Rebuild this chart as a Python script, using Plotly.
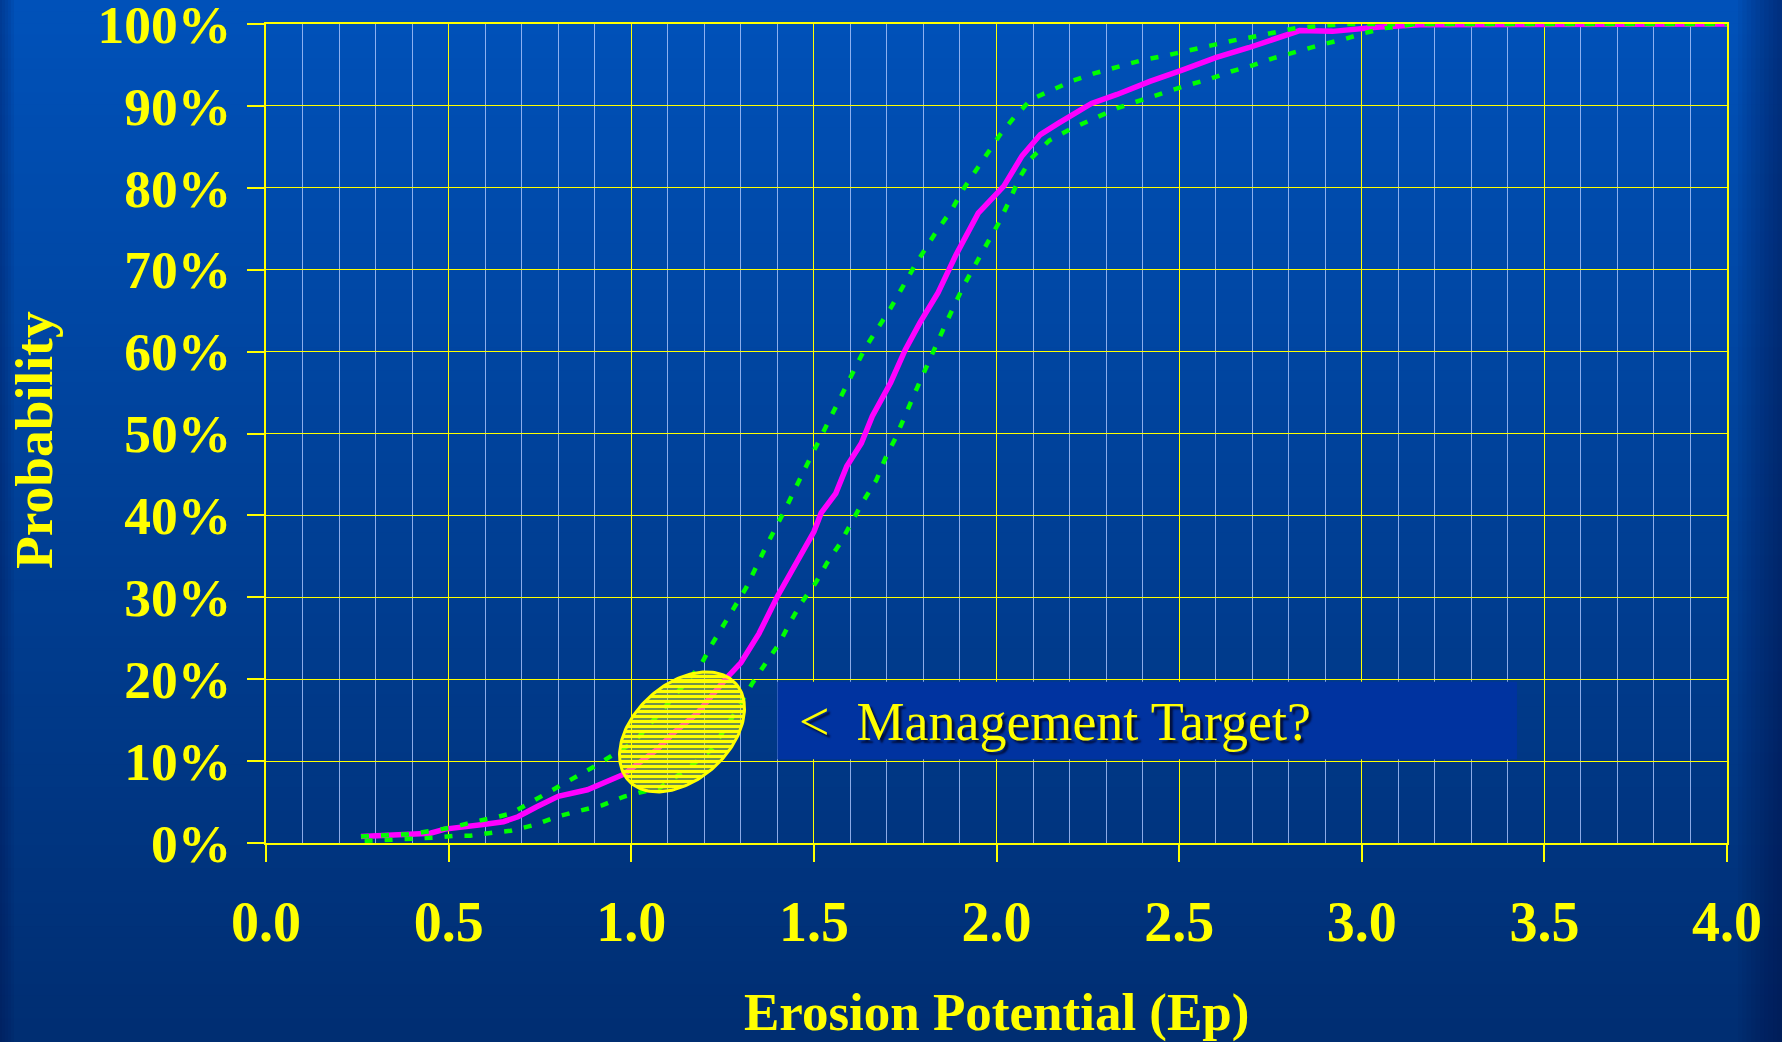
import plotly.graph_objects as go
import numpy as np

# ---------------- data ----------------
EP_MEAN = [0.26, 0.33, 0.40, 0.45, 0.49, 0.54, 0.60, 0.65, 0.69, 0.74, 0.80, 0.88, 0.93, 0.98,
           1.07, 1.12, 1.18, 1.23, 1.26, 1.30, 1.35, 1.40, 1.46, 1.50, 1.52, 1.56, 1.59, 1.63,
           1.66, 1.71, 1.75, 1.79, 1.84, 1.89, 1.95, 2.02, 2.07, 2.12, 2.17, 2.26, 2.33, 2.42,
           2.51, 2.60, 2.69, 2.76, 2.83, 2.92, 2.97, 3.04, 3.16, 4.00]
P_MEAN = [0.8, 1.0, 1.1, 1.2, 1.7, 1.9, 2.3, 2.6, 3.2, 4.4, 5.7, 6.5, 7.5, 8.4,
          11.4, 13.6, 15.8, 18.5, 20.1, 22.0, 25.6, 30.1, 35.0, 38.0, 40.3, 42.7, 46.0, 48.8,
          52.1, 56.2, 60.2, 63.5, 67.2, 71.9, 76.9, 80.2, 83.9, 86.5, 87.9, 90.3, 91.4, 93.0,
          94.4, 95.9, 97.1, 98.1, 99.2, 99.1, 99.3, 99.6, 99.9, 100.0]

EP_UPPER = [0.26, 0.40, 0.51, 0.57, 0.635, 0.67, 0.73, 0.785, 0.84, 0.895, 0.955, 1.01, 1.10,
            1.19, 1.22, 1.26, 1.315, 1.37, 1.42, 1.47, 1.53, 1.59, 1.64, 1.71, 1.775, 1.83,
            1.88, 1.91, 1.945, 1.98, 2.01, 2.05, 2.095, 2.16, 2.21, 2.27, 2.33, 2.40, 2.46,
            2.52, 2.58, 2.65, 2.71, 2.77, 2.82, 2.87, 2.95, 4.00]
P_UPPER = [0.8, 1.1, 1.9, 2.6, 3.2, 3.6, 5.1, 6.45, 7.75, 9.25, 10.9, 12.4, 17.0,
           21.7, 24.2, 27.1, 31.2, 36.3, 40.6, 45.2, 50.5, 55.8, 60.4, 65.3, 70.4, 74.3,
           77.5, 79.9, 82.2, 84.7, 86.5, 88.7, 90.8, 92.1, 93.1, 94.0, 94.8, 95.6, 96.1,
           96.7, 97.4, 98.0, 98.5, 99.1, 99.5, 99.7, 100.0, 100.0]

EP_LOWER = [0.27, 0.33, 0.40, 0.46, 0.52, 0.56, 0.62, 0.67, 0.735, 0.795, 0.86, 0.92, 0.98,
            1.08, 1.14, 1.22, 1.28, 1.333, 1.37, 1.406, 1.433, 1.467, 1.504, 1.536, 1.572,
            1.602, 1.636, 1.671, 1.695, 1.723, 1.748, 1.774, 1.80, 1.826, 1.855, 1.885, 1.912,
            1.943, 1.976, 2.006, 2.036, 2.063, 2.095, 2.145, 2.204, 2.27, 2.335, 2.396, 2.46,
            2.52, 2.578, 2.642, 2.697, 2.756, 2.82, 2.882, 2.948, 3.008, 3.065, 3.10, 3.15, 4.00]
P_LOWER = [0.25, 0.37, 0.4, 0.65, 0.9, 0.9, 1.26, 1.5, 2.2, 3.2, 3.95, 4.6, 5.66,
           6.8, 8.6, 11.4, 15.6, 19.6, 22.1, 24.4, 26.8, 29.4, 31.7, 34.2, 36.6,
           39.1, 41.8, 44.3, 46.9, 49.4, 52.1, 54.7, 57.3, 60.0, 62.8, 65.7, 68.2,
           70.7, 73.3, 75.7, 78.5, 81.2, 83.6, 85.8, 87.2, 88.5, 89.8, 90.7, 91.7,
           92.5, 93.2, 94.2, 94.9, 95.8, 96.6, 97.4, 98.1, 98.9, 99.5, 99.7, 100.0, 100.0]

X_TICKS = [0.0, 0.5, 1.0, 1.5, 2.0, 2.5, 3.0, 3.5, 4.0]
Y_TICKS = [0.0, 0.1, 0.2, 0.3, 0.4, 0.5, 0.6, 0.7, 0.8, 0.9, 1.0]

X_TITLE = "Erosion Potential (Ep)"
Y_TITLE = "Probability"
NOTE_TEXT = "&lt;\u00a0 Management Target?"

# highlighted target region (ellipse) and note box, in data units
TARGET_CENTER = (1.139, 0.1356)
TARGET_SEMI_PX = (72.3, 47.7)   # semi-axes in pixels
TARGET_ANGLE_DEG = 42.0
NOTE_BOX = (1.40, 0.1023, 3.425, 0.197)
NOTE_POS = (1.455, 0.148)

# ---------------- layout geometry ----------------
W, H = 1782, 1042
ML, MR, MT, MB = 266, 55, 24, 199
PW, PH = W - ML - MR, H - MT - MB
XPX = PW / 4.0
YPX = PH / 1.0

YELLOW = "#FFFF00"
FONT = "Liberation Serif"

fig = go.Figure()

fig.add_trace(go.Scatter(x=EP_MEAN, y=[p / 100 for p in P_MEAN], mode="lines",
                         line=dict(color="#FF00FF", width=5.5), hoverinfo="skip",
                         showlegend=False))
for xs, ps in ((EP_UPPER, P_UPPER), (EP_LOWER, P_LOWER)):
    fig.add_trace(go.Scatter(x=xs, y=[p / 100 for p in ps], mode="lines",
                             line=dict(color="#00FF00", width=4.5, dash="8px,12px"),
                             hoverinfo="skip", showlegend=False))

# ellipse highlight with horizontal hatching
phi = np.linspace(0, 2 * np.pi, 181)
a, b = TARGET_SEMI_PX
th = np.deg2rad(TARGET_ANGLE_DEG)
dx = a * np.cos(phi) * np.cos(th) - b * np.sin(phi) * np.sin(th)
dy = a * np.cos(phi) * np.sin(th) + b * np.sin(phi) * np.cos(th)
fig.add_trace(go.Scatter(x=TARGET_CENTER[0] + dx / XPX, y=TARGET_CENTER[1] + dy / YPX,
                         mode="lines", fill="toself", fillcolor=YELLOW,
                         fillpattern=dict(shape="-", fgcolor=YELLOW, fgopacity=1,
                                          bgcolor="rgba(0,0,0,0)", size=5, solidity=0.78),
                         line=dict(color=YELLOW, width=3), hoverinfo="skip",
                         showlegend=False))

# ---------------- background gradient ----------------
shapes = []
top = np.array([0, 82, 186])
bot = np.array([0, 46, 114])
N = 90
px2paper_y = lambda py: (H - MB - py) / PH
px2paper_x = lambda px: (px - ML) / PW
for i in range(N):
    y0 = H * i / N
    y1 = H * (i + 1) / N + 1
    c = top + (bot - top) * (i + 0.5) / N
    shapes.append(dict(type="rect", xref="paper", yref="paper", layer="below",
                       x0=px2paper_x(-2), x1=px2paper_x(W + 2),
                       y0=px2paper_y(y1), y1=px2paper_y(y0 - (2 if i == 0 else 0)),
                       fillcolor="rgb(%d,%d,%d)" % tuple(c), line=dict(width=0)))
# edge darkening
for i in range(10):
    shapes.append(dict(type="rect", xref="paper", yref="paper", layer="below",
                       x0=px2paper_x(1738 + 4.4 * i), x1=px2paper_x(W + 2),
                       y0=px2paper_y(H + 2), y1=px2paper_y(-2),
                       fillcolor="rgba(0,20,70,0.06)", line=dict(width=0)))
for i in range(5):
    shapes.append(dict(type="rect", xref="paper", yref="paper", layer="below",
                       x0=px2paper_x(-2), x1=px2paper_x(14 - 3 * i),
                       y0=px2paper_y(H + 2), y1=px2paper_y(-2),
                       fillcolor="rgba(0,20,70,0.07)", line=dict(width=0)))

# note box
shapes.append(dict(type="rect", xref="x", yref="y", layer="above",
                   x0=NOTE_BOX[0], y0=NOTE_BOX[1], x1=NOTE_BOX[2], y1=NOTE_BOX[3],
                   fillcolor="#0033A0", line=dict(width=0)))

annotations = [
    dict(text=NOTE_TEXT, x=NOTE_POS[0], y=NOTE_POS[1], xref="x", yref="y",
         xanchor="left", yanchor="middle", showarrow=False,
         font=dict(family=FONT, size=54, color=YELLOW, shadow="3px 3px 2px #001040")),
    dict(text=X_TITLE, x=0.5, y=px2paper_y(1013), xref="paper", yref="paper",
         xanchor="center", yanchor="middle", showarrow=False,
         font=dict(family=FONT, size=53, color=YELLOW, weight="bold")),
    dict(text=Y_TITLE, x=px2paper_x(34), y=px2paper_y(440), xref="paper", yref="paper",
         xanchor="center", yanchor="middle", showarrow=False, textangle=-90,
         font=dict(family=FONT, size=53.5, color=YELLOW, weight="bold")),
]

axis_common = dict(showgrid=True, gridcolor=YELLOW, gridwidth=1.3, zeroline=False,
                   showline=True, linecolor=YELLOW, linewidth=2, mirror=True,
                   ticks="outside", ticklen=17, tickwidth=1.5, tickcolor=YELLOW,
                   ticklabeloverflow="allow", automargin=False, fixedrange=True)

fig.update_layout(
    width=W, height=H, autosize=False,
    margin=dict(l=ML, r=MR, t=MT, b=MB, pad=0, autoexpand=False),
    paper_bgcolor="rgb(0,46,114)",
    plot_bgcolor="rgba(0,0,0,0)",
    shapes=shapes,
    annotations=annotations,
    showlegend=False,
    xaxis=dict(range=[0, 4], tickmode="array", tickvals=X_TICKS,
               ticktext=["%.1f" % v for v in X_TICKS], ticklabelstandoff=12,
               tickfont=dict(family=FONT, size=56, color=YELLOW, weight="bold"),
               minor=dict(dtick=0.1, tick0=0, showgrid=True,
                          gridcolor="rgba(175,200,255,0.8)", gridwidth=1, ticks=""),
               **axis_common),
    yaxis=dict(range=[0, 1], tickmode="array", tickvals=Y_TICKS,
               ticktext=["%d%%" % round(v * 100) for v in Y_TICKS], ticklabelstandoff=5,
               tickfont=dict(family=FONT, size=53.5, color=YELLOW, weight="bold"),
               **axis_common),
)

fig.write_html("out.html", config={"displayModeBar": False},
               post_script="document.body.style.margin='0px';"
                           "document.body.style.background='rgb(0,46,114)';")
